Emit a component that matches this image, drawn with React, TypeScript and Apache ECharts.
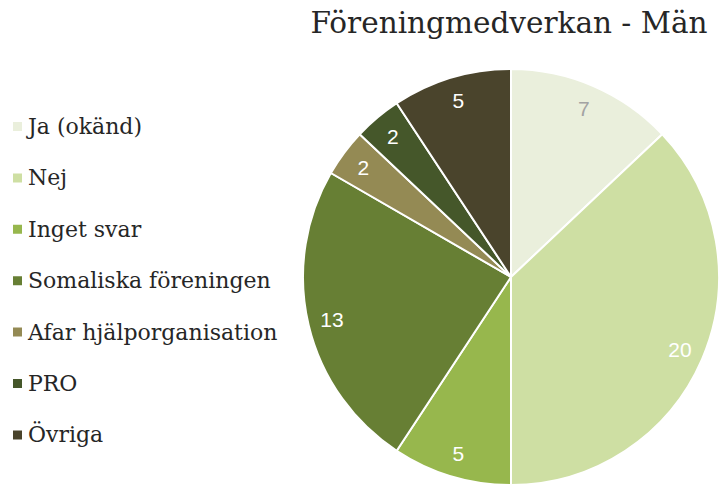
import React, { useEffect, useRef } from "react";
import * as echarts from "echarts";

const titleText = "Föreningmedverkan - Män";
const categories = [
  "Ja (okänd)",
  "Nej",
  "Inget svar",
  "Somaliska föreningen",
  "Afar hjälporganisation",
  "PRO",
  "Övriga",
];
const values = [7, 20, 5, 13, 2, 2, 5];
const colors = ["#EAEFDC", "#CEDFA3", "#97B74D", "#677F34", "#948A54", "#45572A", "#4A442C"];
const labelColors = ["#A3A3A3", "#FFFFFF", "#FFFFFF", "#FFFFFF", "#FFFFFF", "#FFFFFF", "#FFFFFF"];

export default function App() {
  const ref = useRef<HTMLDivElement>(null);
  useEffect(() => {
    if (!ref.current) return;
    const chart = echarts.init(ref.current, null, { renderer: "svg" });
    const serif = "'DejaVu Serif', serif";
    chart.setOption({
      animation: false,
      backgroundColor: "#FFFFFF",
      graphic: [
        {
          type: "text",
          x: 509,
          y: 23,
          style: {
            text: titleText,
            textAlign: "center",
            textVerticalAlign: "middle",
            font: `29.5px ${serif}`,
            fill: "#262626",
          },
        },
      ],
      legend: {
        orient: "vertical",
        left: 11,
        top: 115.5,
        padding: 0,
        itemWidth: 11,
        itemHeight: 11,
        itemGap: 29.4,
        icon: "rect",
        selectedMode: false,
        textStyle: {
          fontFamily: serif,
          fontSize: 22,
          lineHeight: 22,
          color: "#262626",
        },
        data: categories.map((name, i) => ({
          name,
          itemStyle: { color: colors[i] },
        })),
      },
      series: [
        {
          type: "pie",
          center: [511, 277],
          radius: [0, 208],
          startAngle: 90,
          clockwise: true,
          silent: true,
          label: { show: false },
          labelLine: { show: false },
          itemStyle: { borderColor: "#FFFFFF", borderWidth: 2 },
          data: categories.map((name, i) => ({
            name,
            value: values[i],
            itemStyle: { color: colors[i] },
          })),
        },
        {
          type: "pie",
          center: [511, 277],
          radius: [154, 208],
          startAngle: 90,
          clockwise: true,
          silent: true,
          labelLine: { show: false },
          itemStyle: { color: "rgba(0,0,0,0)", borderWidth: 0 },
          data: categories.map((name, i) => ({
            name: name + " ",
            value: values[i],
            label: {
              show: true,
              position: "inside",
              formatter: "{c}",
              fontFamily: "'Liberation Sans', Arial, sans-serif",
              fontSize: 21,
              color: labelColors[i],
            },
          })),
        },
      ],
    });
    return () => chart.dispose();
  }, []);
  return (
    <div
      ref={ref}
      style={{ position: "fixed", left: 0, top: 0, width: 719, height: 484 }}
    />
  );
}
